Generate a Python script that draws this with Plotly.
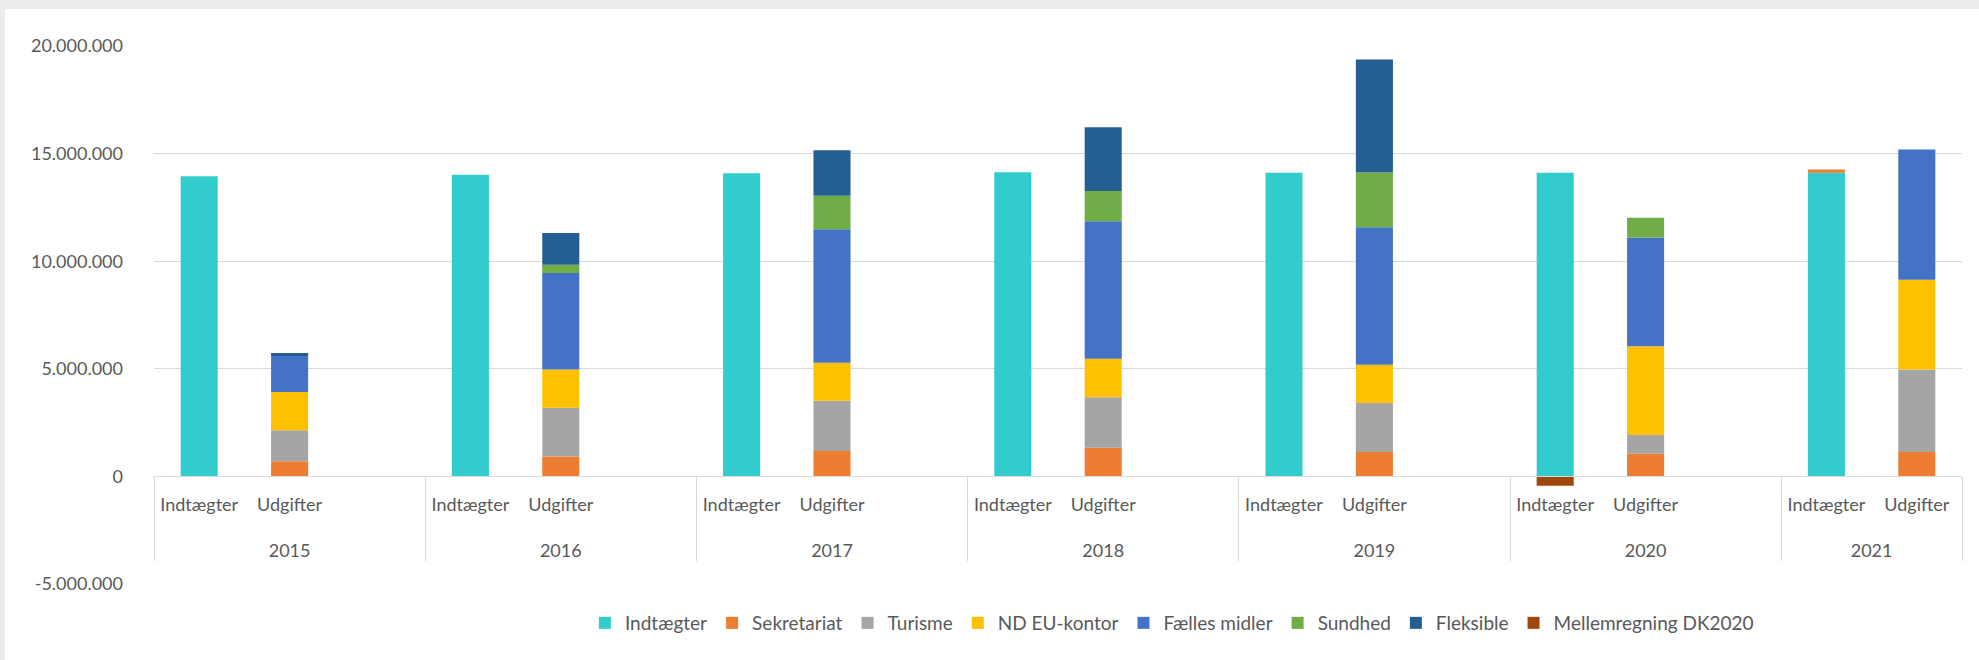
import plotly.graph_objects as go

# ---- data (values in DKK) ----
years = ["2015", "2016", "2017", "2018", "2019", "2020", "2021"]
sub_labels = ["Indtægter", "Udgifter"]
blank_label = " "

indtaegter   = [13950000, 14020000, 14090000, 14130000, 14110000, 14110000, 14110000]
sekr_ind     = [None, None, None, None, None, None, 150000]
mellem_ind   = [None, None, None, None, None, -430000, None]

sekretariat  = [700000, 920000, 1180000, 1330000, 1130000, 1050000, 1130000]
turisme      = [1440000, 2270000, 2330000, 2350000, 2280000, 870000, 3840000]
nd_eu        = [1780000, 1780000, 1770000, 1790000, 1780000, 4130000, 4170000]
faelles      = [1670000, 4480000, 6200000, 6390000, 6390000, 5040000, 6050000]
sundhed      = [0, 390000, 1560000, 1400000, 2540000, 930000, 0]
fleksible    = [140000, 1470000, 2110000, 2960000, 5250000, 0, 0]

series_names = ["Indtægter", "Sekretariat", "Turisme", "ND EU-kontor",
                "Fælles midler", "Sundhed", "Fleksible", "Mellemregning DK2020"]
colors = ["#33CCCC", "#ED7D31", "#A5A5A5", "#FFC000",
          "#4472C4", "#70AD47", "#255E91", "#9E480E"]

y_tickvals = [-5000000, 0, 5000000, 10000000, 15000000, 20000000]
y_ticktext = ["-5.000.000", "0", "5.000.000", "10.000.000", "15.000.000", "20.000.000"]

# ---- category slots: (year, sub) with a blank third slot except last year ----
lvl1, lvl2 = [], []
for i, yr in enumerate(years):
    subs = sub_labels + ([blank_label] if i < len(years) - 1 else [])
    for s in subs:
        lvl1.append(yr)
        lvl2.append(s)


def build(ind_vals, udg_vals):
    out = []
    for yr, s in zip(lvl1, lvl2):
        k = years.index(yr)
        if s == "Indtægter":
            out.append(ind_vals[k] if ind_vals else None)
        elif s == "Udgifter":
            out.append(udg_vals[k] if udg_vals else None)
        else:
            out.append(None)
    return out


series_values = [
    build(indtaegter, None),
    build(sekr_ind, sekretariat),
    build(None, turisme),
    build(None, nd_eu),
    build(None, faelles),
    build(None, sundhed),
    build(None, fleksible),
    build(mellem_ind, None),
]

LBL = 18  # visible label size in px
span = "<span style='font-size:%dpx'>%s</span>"
# year labels pushed one line down for extra gap between label rows
year_labels = ["<br>" + span % (LBL, yr) for yr in lvl1]
sub_disp = [span % (LBL, s) if s.strip() else s for s in lvl2]

fig = go.Figure()
for name, col, vals in zip(series_names, colors, series_values):
    fig.add_trace(go.Bar(x=[year_labels, sub_disp], y=vals, name=name,
                         marker=dict(color=col, line=dict(width=0))))

W, H = 1979, 660
ml, mr, mt, mb = 154, 17, 46, 76
plot_w = W - ml - mr
plot_h = H - mt - mb


def px_x(px):
    return (px - ml) / plot_w


def px_y(py):
    return (H - mb - py) / plot_h


font_fam = "Lato, Carlito, Calibri, sans-serif"
txt_col = "#595959"
grid_col = "#d9d9d9"

fig.update_layout(
    width=W, height=H,
    margin=dict(l=ml, r=mr, t=mt, b=mb),
    barmode="relative",
    bargap=0.59,
    paper_bgcolor="white",
    plot_bgcolor="white",
    font=dict(family=font_fam, size=18, color=txt_col),
    showlegend=True,
    legend=dict(orientation="h", x=0.563, xanchor="center",
                y=px_y(623), yanchor="middle",
                font=dict(family=font_fam, size=19, color=txt_col),
                itemwidth=30, traceorder="normal"),
    shapes=[
        dict(type="rect", xref="paper", yref="paper",
             x0=px_x(0), x1=px_x(W), y0=px_y(0), y1=px_y(9),
             fillcolor="#ececec", line=dict(width=0), layer="below"),
        dict(type="rect", xref="paper", yref="paper",
             x0=px_x(0), x1=px_x(5), y0=px_y(0), y1=px_y(H),
             fillcolor="#ececec", line=dict(width=0), layer="below"),
    ],
)

fig.update_xaxes(
    type="multicategory",
    anchor="free", position=px_y(476),
    showline=True, linecolor=grid_col, linewidth=1,
    showgrid=False, ticks="",
    showdividers=True, dividercolor=grid_col, dividerwidth=1,
    ticklabelstandoff=9,
    tickfont=dict(family=font_fam, size=21, color=txt_col),
)

fig.update_yaxes(
    range=[-5000000, 20000000],
    tickvals=y_tickvals, ticktext=y_ticktext,
    showgrid=True, gridcolor=grid_col, gridwidth=1,
    zeroline=False, showline=False, ticks="",
    ticklabelstandoff=30,
    tickfont=dict(family=font_fam, size=18, color=txt_col),
)

fig.write_html("out.html", config={"displayModeBar": False},
               post_script="document.body.style.margin='0';")
